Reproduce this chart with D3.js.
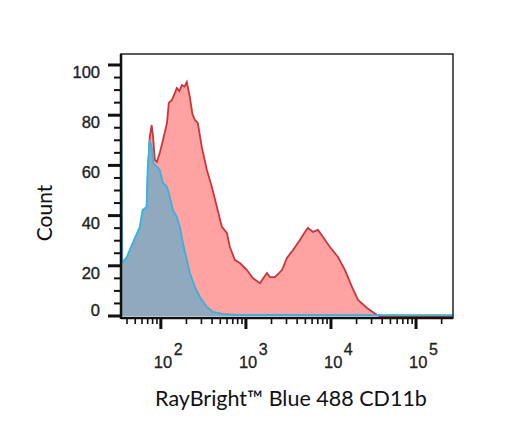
<!DOCTYPE html>
<html><head><meta charset="utf-8">
<script src="https://cdn.jsdelivr.net/npm/d3@7"></script>
<style>body{margin:0;background:#fff}svg{display:block}</style>
</head><body>
<svg id="c" width="527" height="422"></svg>
<script>
// Data: fluorescence intensity (x) and count (y)
const redX = [34,38,43,52,61,68,70,74,78,81,85,90,97,106,118,124,135,146,154,165,177,190,202,219,235,251,272,303,348,398,456,522,597,648,743,850,1028,1208,1462,1766,1914,2193,2653,3036,3573,4316,4943,5360,6138,7031,8054,9730,12080,14620,17660,20800,26530,34750,37670,60000,272000];
const redY = [18.3,19.5,23.5,29.1,35.5,41.0,54.2,71.3,76.1,71.3,62.2,61.4,64.9,70.1,76.9,84.9,86.1,88.8,90.8,89.6,92.0,91.4,93.2,87.3,80.5,78.1,76.9,67.3,58.2,51.4,43.4,35.5,33.1,27.5,22.3,21.1,18.3,15.1,13.1,17.1,15.5,15.5,18.3,23.1,26.3,30.3,33.5,35.1,33.5,34.3,31.5,27.5,23.5,18.3,11.6,6.4,3.2,0.4,0,0,0];
const blueX = [34,35.2,35.7,39.8,46.8,56.6,61,68,70,74,78,81,90,97,106,118,127.6,138.4,154,167.3,181.5,202,219,251,287.6,348,409,536,783,2000,272000];
const blueY = [110,21.5,21.5,23.5,29.1,35.5,42.2,43.4,58.2,70.1,67.3,61.0,59.4,58.2,53.0,51.4,47.4,42.2,39.4,35.5,29.1,22.3,17.1,11.6,7.6,3.6,1.6,0.8,0.4,0.4,0.3];
const yTicks = [0,20,40,60,80,100];
const xTicks = [100,1000,10000,100000];
const xTickExp = ["2","3","4","5"];
const xDomain = [34, 272000];
const yDomain = [0, 100];
const xTitle = "RayBright\u2122 Blue 488 CD11b";
const yTitle = "Count";

const L = 121, R = 453, T = 54, B = 318;
const svg = d3.select("#c");
const x = d3.scaleLog().domain(xDomain).range([L, R]);
const y = d3.scaleLinear().domain(yDomain).range([316, 65]);

svg.append("clipPath").attr("id","clip").append("rect")
  .attr("x", L).attr("y", T).attr("width", R-L).attr("height", B-T);

const g = svg.append("g").attr("clip-path","url(#clip)");
const red = redX.map((v,i)=>[v, redY[i]]);
const blue = blueX.map((v,i)=>[v, blueY[i]]);
const area = d3.area().x(d=>x(d[0])).y0(y(0)).y1(d=>y(d[1]));
const line = d3.line().x(d=>x(d[0])).y(d=>y(d[1]));

g.append("path").datum(red).attr("d", area).attr("fill", "#ffa2a2");
g.append("path").datum(red).attr("d", line).attr("fill","none").attr("stroke","#d03438").attr("stroke-width",1.8);
g.append("path").datum(blue).attr("d", area).attr("fill", "#90a9be");
g.append("path").datum(blue).attr("d", line).attr("fill","none").attr("stroke","#33b5e3").attr("stroke-width",1.9);

// Box
svg.append("rect").attr("x", L).attr("y", T).attr("width", R-L).attr("height", B-T)
  .attr("fill","none").attr("stroke","#333").attr("stroke-width",1.6);
svg.append("line").attr("x1",L).attr("x2",L).attr("y1",T).attr("y2",B+1).attr("stroke","#111").attr("stroke-width",2.5);
svg.append("line").attr("x1",L).attr("x2",R).attr("y1",B).attr("y2",B).attr("stroke","#111").attr("stroke-width",2.5);

// Y ticks
const yMinor = d3.range(0, 101, 5).filter(v => v % 20 !== 0);
svg.selectAll(".ymaj").data(yTicks).enter().append("line")
  .attr("x1", L-13).attr("x2", L).attr("y1", d=>y(d)).attr("y2", d=>y(d))
  .attr("stroke","#111").attr("stroke-width",3);
svg.selectAll(".ymin").data(yMinor).enter().append("line")
  .attr("x1", L-7).attr("x2", L).attr("y1", d=>y(d)).attr("y2", d=>y(d))
  .attr("stroke","#111").attr("stroke-width",2);
svg.selectAll(".ylab").data(yTicks).enter().append("text")
  .attr("x", 100).attr("y", d=>y(d) + (d === 0 ? -6 : 7))
  .attr("dominant-baseline","central").attr("text-anchor","end")
  .attr("font-family","'Liberation Sans', Arial, sans-serif").attr("font-size",16.5)
  .attr("fill","#222").attr("stroke","#222").attr("stroke-width",0.35).text(d=>d);

// X ticks
const xMinor = [];
for (let e = 1; e <= 5; e++) for (let k = 2; k <= 9; k++) {
  const v = k * Math.pow(10, e);
  if (v >= xDomain[0] && v <= xDomain[1]) xMinor.push(v);
}
svg.selectAll(".xmin").data(xMinor).enter().append("line")
  .attr("x1", d=>x(d)).attr("x2", d=>x(d)).attr("y1", B).attr("y2", B+6)
  .attr("stroke","#111").attr("stroke-width",1.6);
svg.selectAll(".xmaj").data(xTicks).enter().append("line")
  .attr("x1", d=>x(d)).attr("x2", d=>x(d)).attr("y1", B).attr("y2", B+11)
  .attr("stroke","#111").attr("stroke-width",3);
const xl = svg.selectAll(".xlab").data(xTicks).enter().append("text")
  .attr("x", d=>x(d)-7).attr("y", 368)
  .attr("font-family","'Liberation Sans', Arial, sans-serif").attr("font-size",16.5)
  .attr("fill","#222").attr("stroke","#222").attr("stroke-width",0.3);
xl.append("tspan").text("10");
xl.append("tspan").attr("dx",1.5).attr("dy",-13).attr("font-size",16).text((d,i)=>xTickExp[i]);

// Titles
svg.append("text").attr("x", 291).attr("y", 406).attr("text-anchor","middle")
  .attr("font-family","Lato, 'Open Sans', sans-serif").attr("font-size",21.5)
  .attr("fill","#111").text(xTitle);
svg.append("text").attr("transform","translate(52,213) rotate(-90)").attr("text-anchor","middle")
  .attr("font-family","Lato, 'Open Sans', sans-serif").attr("font-size",21)
  .attr("fill","#111").text(yTitle);
</script>
</body></html>
